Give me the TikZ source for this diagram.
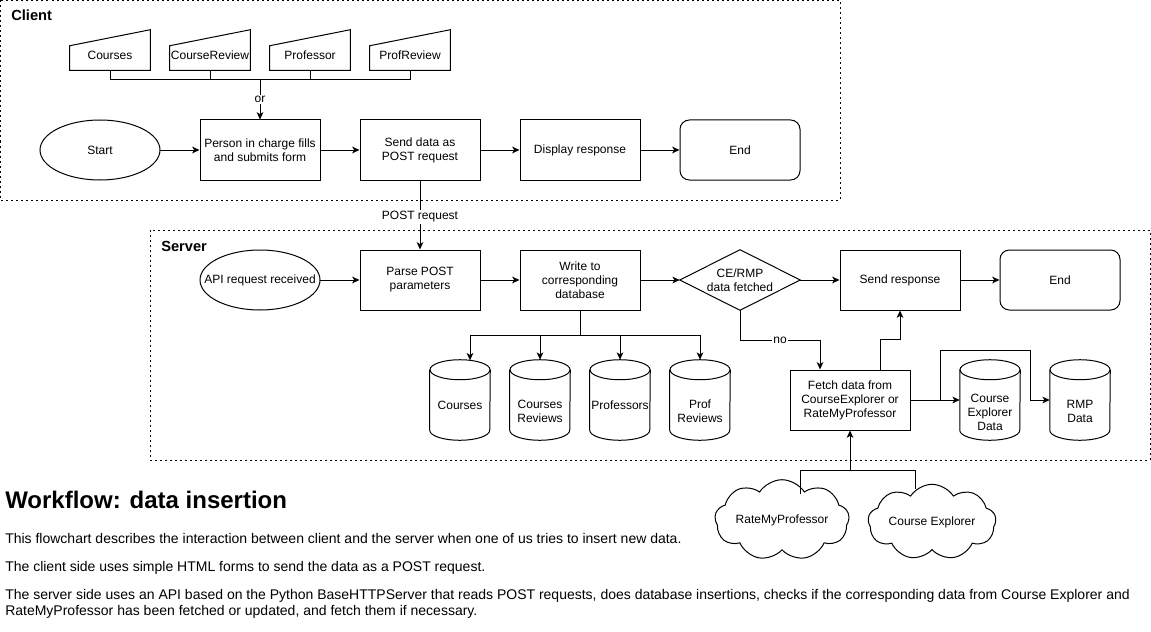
\documentclass[tikz,border=0pt]{standalone}
\usepackage{fontspec}
\setmainfont{Liberation Sans}
\usetikzlibrary{shapes.geometric,shapes.symbols,arrows.meta,calc}
\newcommand{\drawcyl}[1]{%
  \draw[line] ($(#1.north west)+(0,10)$) -- ($(#1.south west)+(0,-10)$)
    arc[start angle=180,end angle=360,x radius=22.5pt,y radius=7.5pt]
    -- ($(#1.north east)+(0,10)$);
  \draw[line] ($(#1.north)+(0,10)$) ellipse [x radius=22.5pt,y radius=7.5pt];}
\newcommand{\drawminput}[1]{%
  \draw[line] (#1.south west) -- ($(#1.north west)+(0,6)$) -- ($(#1.north east)+(0,-10)$) -- (#1.south east) -- cycle;}
\newcommand{\drawell}[1]{%
  \draw[line] (#1.center) ellipse [x radius=45pt,y radius=22.5pt];}
\begin{document}
\begin{tikzpicture}[x=0.75pt,y=-0.75pt,
  font=\fontsize{9}{10.5}\selectfont,
  line/.style={line width=0.75pt},
  arr/.style={line, -{Stealth[length=5.5pt,width=5pt,inset=1.5pt]}},
  region/.style={line width=0.75pt, dash pattern=on 1.5pt off 2.25pt},
  box/.style={line, draw, minimum width=90pt, minimum height=45pt, align=center, inner sep=1pt},
  rbox/.style={box, rounded corners=7pt},
  ell/.style={ellipse, minimum width=90pt, minimum height=45pt, inner sep=0pt, align=center},
  ghost/.style={minimum width=#1, inner sep=0pt, align=center},
  minput/.style={minimum width=60pt, minimum height=22.5pt, inner sep=0pt, align=center},
  cylbox/.style={minimum width=45pt, minimum height=60pt, inner sep=0pt},
  cyltext/.style={align=center, inner sep=0pt},
  cloudn/.style={line, draw, cloud, cloud puffs=9, cloud puff arc=115, aspect=2.2, minimum width=96pt, minimum height=46pt, inner sep=0pt},
  lbl/.style={fill=white, inner sep=1pt},
  para/.style={anchor=base west, inner sep=0pt, align=left, font=\fontsize{10.5}{12}\selectfont},
  region label/.style={anchor=base west, inner sep=0pt, font=\bfseries\fontsize{11}{12}\selectfont}
]
\useasboundingbox (0,0) rectangle (1151,631);

% ---------- Client region ----------
\draw[region] (0.5,0.5) rectangle (840,200);
\node[region label] (clientlbl) at (11,21) {Client};

\node[minput] (i1) at (110,55) {Courses};
\node[minput] (i2) at (210,55) {CourseReview};
\node[minput] (i3) at (310,55) {Professor};
\node[minput] (i4) at (410,55) {ProfReview};
\drawminput{i1}\drawminput{i2}\drawminput{i3}\drawminput{i4}

\node[ell] (start) at (100,150) {Start};
\drawell{start}
\node[box] (person) at (260,150) {Person in charge fills\\and submits form};
\node[box] (send) at (420,150) {Send data as\\POST request};
\node[box] (disp) at (580,150) {Display response};
\node[rbox] (end1) at (740,150) {End};

\coordinate (orj) at (260,80);
\draw[line] (i1.south) |- (orj);
\draw[line] (i4.south) |- (orj);
\draw[line] (i2.south) -- (i2.south |- orj);
\draw[line] (i3.south) -- (i3.south |- orj);
\draw[arr] (orj) -- node[lbl] (orlbl) {or} (person.north);

\draw[arr] (start) -- (person);
\draw[arr] (person) -- (send);
\draw[arr] (send) -- (disp);
\draw[arr] (disp) -- (end1);

% ---------- Server region ----------
\draw[region] (150,230) rectangle (1150,460);
\node[region label] (serverlbl) at (161,251) {Server};

\node[ghost=90pt, minimum height=45pt] (api) at (260,280) {API request received};
\drawell{api}
\node[box] (parse) at (420,280) {Parse POST\\parameters};
\node[box] (write) at (580,280) {Write to\\corresponding\\database};
\node[ghost=90pt, minimum height=45pt] (dia) at (740,280) {CE/RMP\\data fetched};
\draw[line] (dia.west) -- (dia.north) -- (dia.east) -- (dia.south) -- cycle;
\node[box] (sendr) at (900,280) {Send response};
\node[rbox] (end2) at (1060,280) {End};

\draw[arr] (send) -- node[lbl, pos=0.5, yshift=-1.5pt] (postlbl) {POST request} (parse);
\draw[arr] (api) -- (parse);
\draw[arr] (parse) -- (write);
\draw[arr] (write) -- (dia.west);
\draw[arr] (dia.east) -- (sendr);
\draw[arr] (sendr) -- (end2);

% databases
\node[cylbox] (db1) at (460,400) {};
\node[cylbox] (db2) at (540,400) {};
\node[cylbox] (db3) at (620,400) {};
\node[cylbox] (db4) at (700,400) {};
\drawcyl{db1}\drawcyl{db2}\drawcyl{db3}\drawcyl{db4}
\node[cyltext] (db1t) at (460,405) {Courses};
\node[cyltext] (db2t) at (540,411) {Courses\\Reviews};
\node[cyltext] (db3t) at (620,405) {Professors};
\node[cyltext] (db4t) at (700,411) {Prof\\Reviews};

\coordinate (wj) at (580,335);
\draw[line] (write.south) -- (wj);
\draw[arr] (wj) -| ($(db1.north)+(10,0.6)$);
\draw[arr] (wj) -| (db2.north);
\draw[arr] (wj) -| (db3.north);
\draw[arr] (wj) -| (db4.north);

% fetch
\node[box] (fetch) at (850,400) {Fetch data from\\CourseExplorer or\\RateMyProfessor};
\draw[arr] (dia.south) -- ++(0,30) -| node[pos=0.25, lbl] (nolbl) {no} ($(fetch.north)+(-30,0)$);
\draw[arr] ($(fetch.north)+(30,0)$) -- ++(0,-30) -| (sendr.south);

\node[cylbox] (ce) at (990,400) {};
\node[cylbox] (rmp) at (1080,400) {};
\drawcyl{ce}\drawcyl{rmp}
\node[cyltext] (cet) at (990,412) {Course\\Explorer\\Data};
\node[cyltext] (rmpt) at (1080,411) {RMP\\Data};

\draw[arr] (fetch.east) -- (ce.west);
\draw[arr] ($(fetch.east)+(30,0)$) -- ++(0,-50) -- ++(90,0) |- (rmp.west);

% clouds
\node[cloudn] (rmpc) at (782,520) {RateMyProfessor};
\node[cloudn] (cec) at (932,522) {Course Explorer};
\coordinate (cj) at (850,470);
\draw[line] ($(rmpc.center)+(18,-26)$) |- (cj);
\draw[line] ($(cec.center)+(-17,-33)$) |- (cj);
\draw[arr] (cj) -- (fetch.south);

% ---------- text ----------
\node[anchor=base west, inner sep=0pt, font=\bfseries\fontsize{18}{20}\selectfont] (title) at (5,508) {Workflow: data insertion};
\node[para] (p1) at (5,543) {This flowchart describes the interaction between client and the server when one of us tries to insert new data.};
\node[para] (p2) at (5,571) {The client side uses simple HTML forms to send the data as a POST request.};
\node[para] (p3) at (5,615) {The server side uses an API based on the Python BaseHTTPServer that reads POST requests, does database insertions, checks if the corresponding data from Course Explorer and\\RateMyProfessor has been fetched or updated, and fetch them if necessary.};
\end{tikzpicture}
\end{document}
